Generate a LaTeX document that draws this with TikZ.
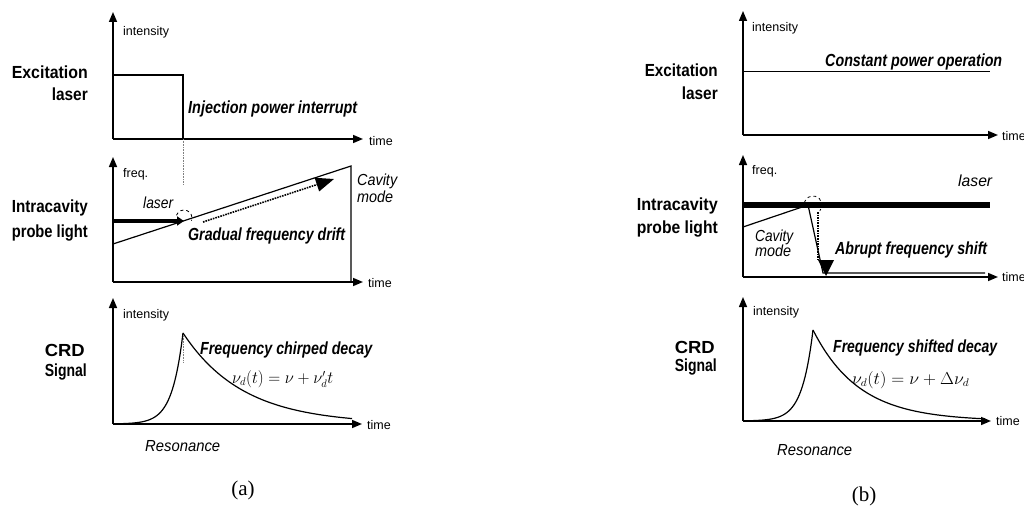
\documentclass[tikz,border=0pt]{standalone}
\usepackage{fontspec}
\usepackage{graphicx}
\newfontfamily\arial{Liberation Sans}
\newfontfamily\capfont{Liberation Serif}
\usetikzlibrary{arrows.meta}
\newcommand\fitw[2]{\resizebox{#1}{\height}{#2}}
\tikzset{
 axisarr/.style={line width=1.5pt, -{Triangle[length=10pt,width=8pt]}},
 crv/.style={line width=1.2pt},
 lblb/.style={font=\arial\bfseries\fontsize{17.5}{17.5}\selectfont, inner sep=0pt},
 lblbi/.style={font=\arial\bfseries\itshape\fontsize{17.5}{17.5}\selectfont, inner sep=0pt},
 lbli/.style={font=\arial\itshape\fontsize{16}{16}\selectfont, inner sep=0pt},
 lblr/.style={font=\arial\fontsize{12.5}{12.5}\selectfont, inner sep=0pt},
 lblm/.style={font=\fontsize{16}{16}\selectfont, inner sep=0pt},
 lblc/.style={font=\capfont\fontsize{21}{21}\selectfont, inner sep=0pt},
 faint/.style={gray, densely dotted, line width=0.6pt},
}
\begin{document}
\begin{tikzpicture}[x=1pt,y=-1pt]
\useasboundingbox (0,0) rectangle (1024,508);
\fill[white] (0,0) rectangle (1024,508);

% ================= (a) =================
% --- top: excitation laser
\coordinate (oA1) at (113,139);
\draw[axisarr] (oA1) -- (113,12);
\draw[axisarr] (oA1) -- (363,139);
\coordinate (boxTL) at (113,75);
\coordinate (boxTR) at (183,75);
\coordinate (boxBR) at (183,139);
\draw[crv] (boxTL) -- (boxTR) -- (boxBR);
\draw[line width=2.4pt] (boxBR) -- (352,139);
\draw[faint] (boxBR) -- (183,185);
\node[lblr, anchor=west] (intA1) at (123,32) {intensity};
\node[lblb, anchor=east] (exA) at (88,72) {\fitw{76pt}{Excitation}};
\node[lblb, anchor=east] (laserA) at (88,94) {\fitw{36pt}{laser}};
\node[lblbi, anchor=west] (injA) at (188,109) {\fitw{169pt}{Injection power interrupt}};
\node[lblr, anchor=west] (timeA1) at (369,141) {time};

% --- middle: intracavity probe light
\coordinate (oA2) at (113,282);
\draw[axisarr] (oA2) -- (113,157);
\draw[axisarr] (oA2) -- (363,282);
\coordinate (cavA0) at (113,244);
\coordinate (cavAe) at (351,166);
\draw[crv] (cavA0) -- (cavAe) -- (351,282);
\coordinate (lasA0) at (113,221);
\coordinate (lasAe) at (184,221);
\draw[line width=4.5pt, -{Triangle[length=7pt,width=9pt]}] (lasA0) -- (lasAe);
\draw[dashed, line width=0.8pt] (184,218) ++(-160:8) arc[start angle=-160, end angle=20, radius=8];
\coordinate (drA0) at (203,222);
\coordinate (drA1) at (334,179);
\draw[densely dotted, line width=1.6pt, -{Triangle[length=18pt,width=14pt]}] (drA0) -- (drA1);
\node[lblr, anchor=west] (freqA) at (123,174) {freq.};
\node[lbli, anchor=west] (ilaserA) at (143,203) {\fitw{30pt}{laser}};
\node[lblb, anchor=east] (intraA) at (88,208) {\fitw{76pt}{Intracavity}};
\node[lblb, anchor=east] (probeA) at (88,233) {\fitw{76pt}{probe light}};
\node[lblbi, anchor=west] (gradA) at (188,236) {\fitw{157pt}{Gradual frequency drift}};
\node[lbli, anchor=west] (cavA1) at (357,181) {\fitw{40pt}{Cavity}};
\node[lbli, anchor=west] (cavA2) at (357,197) {\fitw{36pt}{mode}};
\node[lblr, anchor=west] (timeA2) at (368,283) {time};

% --- bottom: CRD signal
\coordinate (oA3) at (113,424);
\draw[axisarr] (oA3) -- (113,298);
\draw[axisarr] (oA3) -- (362,424);
\draw[crv, domain=118:183, samples=50] plot (\x, {424-91*exp((\x-183)/11)});
\draw[crv, domain=183:352, samples=80] plot (\x, {424-91*exp(-(\x-183)/60)});
\draw[faint] (183,336) -- (183,362);
\node[lblr, anchor=west] (intA3) at (123,315) {intensity};
\node[lblb, anchor=east] (crdA) at (85,350) {\fitw{40pt}{CRD}};
\node[lblb, anchor=east] (sigA) at (87,372) {\fitw{42pt}{Signal}};
\node[lblbi, anchor=west] (chirpA) at (200,350) {\fitw{172pt}{Frequency chirped decay}};
\node[lblm, anchor=west] (formA) at (232,379) {\fitw{101pt}{$\nu_d(t)=\nu+\nu'_d t$}};
\node[lblr, anchor=west] (timeA3) at (367,425) {time};
\node[lbli, anchor=west] (resA) at (145,446) {\fitw{75pt}{Resonance}};
\node[lblc] (capA) at (243,490) {(a)};

% ================= (b) =================
% --- top
\coordinate (oB1) at (743,135);
\draw[axisarr] (oB1) -- (743,11);
\draw[axisarr] (oB1) -- (998,135);
\coordinate (cpB0) at (743,72);
\coordinate (cpB1) at (990,72);
\draw[line width=1pt] (cpB0) -- (cpB1);
\node[lblr, anchor=west] (intB1) at (752,28) {intensity};
\node[lblb, anchor=east] (exB) at (718,70) {\fitw{73pt}{Excitation}};
\node[lblb, anchor=east] (laserB) at (718,93) {\fitw{36pt}{laser}};
\node[lblbi, anchor=west] (constB) at (825,62) {\fitw{177pt}{Constant power operation}};
\node[lblr, anchor=west] (timeB1) at (1002,136) {time};

% --- middle
\coordinate (oB2) at (743,277);
\draw[axisarr] (oB2) -- (743,155);
\draw[axisarr] (oB2) -- (998,277);
\coordinate (lasB0) at (743,205);
\coordinate (lasB1) at (990,205);
\draw[line width=6pt] (lasB0) -- (lasB1);
\coordinate (cvB0) at (743,227);
\coordinate (cvB1) at (808,205);
\coordinate (cvB2) at (823,273);
\coordinate (cvB3) at (985,273);
\draw[crv] (cvB0) -- (cvB1) -- (cvB2) -- (cvB3);
\draw[densely dotted, line width=1.6pt] (818,212) -- (818,261);
\fill (818,260) -- (834,260) -- (826,276) -- cycle;
\draw[dashed, line width=0.8pt] (813,205) ++(-165:9) arc[start angle=-165, end angle=40, radius=9];
\node[lblr, anchor=west] (freqB) at (752,171) {freq.};
\node[lbli, anchor=west] (ilaserB) at (958,181) {\fitw{34pt}{laser}};
\node[lblb, anchor=east] (intraB) at (718,206) {\fitw{81pt}{Intracavity}};
\node[lblb, anchor=east] (probeB) at (718,229) {\fitw{81pt}{probe light}};
\node[lbli, anchor=west] (cavB1) at (755,237) {\fitw{38pt}{Cavity}};
\node[lbli, anchor=west] (cavB2) at (755,251) {\fitw{36pt}{mode}};
\node[lblbi, anchor=west] (abruptB) at (835,250) {\fitw{152pt}{Abrupt frequency shift}};
\node[lblr, anchor=west] (timeB2) at (1002,277) {time};

% --- bottom
\coordinate (oB3) at (743,421);
\draw[axisarr] (oB3) -- (743,297);
\draw[axisarr] (oB3) -- (991,421);
\draw[crv, domain=748:813, samples=50] plot (\x, {421-91*exp((\x-813)/11)});
\draw[crv, domain=813:985, samples=80] plot (\x, {421-91*exp(-(\x-813)/46)});
\node[lblr, anchor=west] (intB3) at (753,312) {intensity};
\node[lblb, anchor=east] (crdB) at (715,347) {\fitw{40pt}{CRD}};
\node[lblb, anchor=east] (sigB) at (717,367) {\fitw{42pt}{Signal}};
\node[lblbi, anchor=west] (shiftB) at (833,348) {\fitw{164pt}{Frequency shifted decay}};
\node[lblm, anchor=west] (formB) at (852,380) {\fitw{117pt}{$\nu_d(t)=\nu+\Delta\nu_d$}};
\node[lblr, anchor=west] (timeB3) at (996,421) {time};
\node[lbli, anchor=west] (resB) at (777,450) {\fitw{75pt}{Resonance}};
\node[lblc] (capB) at (864,496) {(b)};
\end{tikzpicture}
\end{document}
